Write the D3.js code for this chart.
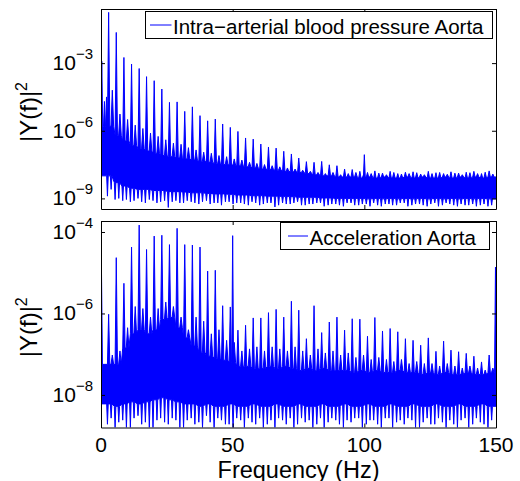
<!DOCTYPE html>
<html>
<head>
<meta charset="utf-8">
<script src="https://cdn.jsdelivr.net/npm/d3@7"></script>
<style>
  body { margin: 0; background: #fff; }
  svg { display: block; font-family: "Liberation Sans", Arial, sans-serif; }
</style>
</head>
<body>
<div id="chart"></div>
<script>
// =============================================================================
// DATA (values are log10 |Y(f)|^2)
// =============================================================================

// heart-rate harmonics and the smaller peaks sitting between them (Hz)
const harmHz = [2.9, 5.8, 8.7, 11.6, 14.5, 17.3, 20.2, 23.1, 26.0, 28.9,
  31.8, 34.7, 37.6, 40.5, 43.4, 46.2, 49.1, 52.0, 54.9, 57.8,
  60.7, 63.6, 66.5, 69.4, 72.3, 75.1, 78.0, 80.9, 83.8, 86.7,
  89.6, 92.5, 95.4, 98.3, 101.2, 104.0, 106.9, 109.8, 112.7, 115.6,
  118.5, 121.4, 124.3, 127.2, 130.1, 132.9, 135.8, 138.7, 141.6, 144.5, 147.4];
const halfHz = [4.3, 7.2, 10.1, 13.0, 15.9, 18.8, 21.7, 24.6, 27.5, 30.4,
  33.2, 36.1, 39.0, 41.9, 44.8, 47.7, 50.6, 53.5, 56.4, 59.2,
  62.1, 65.0, 67.9, 70.8, 73.7, 76.6, 79.5, 82.4, 85.2, 88.1,
  91.0, 93.9, 96.8, 99.7, 102.6, 105.5, 108.4, 111.2, 114.1, 117.0,
  119.9, 122.8, 125.7, 128.6, 131.5, 134.4, 137.2, 140.1, 143.0, 145.9, 148.8];

// Intra-arterial blood pressure Aorta
const topPeak = [-0.75, -1.64, -2.75, -3.04, -3.24, -3.60, -3.78, -4.15, -4.74, -4.72,
  -5.14, -4.94, -5.33, -5.56, -5.48, -5.70, -5.85, -6.03, -6.32, -6.37,
  -6.59, -6.72, -6.77, -6.91, -7.03, -7.21, -7.37, -7.40, -7.36, -7.51,
  -7.55, -7.70, -7.72, -7.80, -7.85, -7.78, -7.88, -7.80, -7.90, -7.84,
  -7.82, -7.92, -7.80, -7.86, -7.90, -7.82, -7.88, -7.84, -7.80, -7.90, -7.78];
const topHalf = [-4.20, -5.26, -5.50, -5.75, -5.90, -6.10, -6.25, -6.40, -6.55, -6.60,
  -6.75, -6.85, -6.95, -7.00, -7.10, -7.15, -7.25, -7.30, -7.40, -7.45,
  -7.50, -7.55, -7.60, -7.65, -7.70, -7.75, -7.80, -7.85, -7.90, -7.85,
  -7.95, -7.90, -7.85, -7.95, -7.90, -7.88, -7.95, -7.85, -7.92, -7.90,
  -7.86, -7.95, -7.90, -7.85, -7.93, -7.88, -7.95, -7.86, -7.90, -7.84, -7.92];
const topCeil = [-5.80, -6.20, -6.45, -6.65, -6.80, -6.90, -7.00, -7.10, -7.15, -7.20,
  -7.25, -7.30, -7.35, -7.40, -7.45, -7.50, -7.52, -7.55, -7.60, -7.65,
  -7.70, -7.72, -7.75, -7.80, -7.82, -7.85, -7.90, -7.95, -8.00, -8.00,
  -8.05, -8.05, -8.05, -8.10, -8.05, -8.10, -8.05, -8.10, -8.10, -8.05,
  -8.10, -8.05, -8.10, -8.10, -8.05, -8.10, -8.05, -8.10, -8.05, -8.10, -8.05];
const topFloor = [-8.00, -8.30, -8.45, -8.55, -8.60, -8.60, -8.65, -8.65, -8.70, -8.70,
  -8.72, -8.75, -8.75, -8.78, -8.80, -8.80, -8.82, -8.85, -8.85, -8.88,
  -8.88, -8.90, -8.90, -8.92, -8.92, -8.95, -8.95, -8.95, -8.98, -8.98,
  -9.00, -9.00, -9.00, -9.00, -9.02, -9.00, -9.02, -9.00, -9.02, -9.00,
  -9.02, -9.00, -9.02, -9.00, -9.02, -9.00, -9.02, -9.00, -9.02, -9.00, -9.02];
const topDipA = [-8.90, -9.05, -9.10, -9.15, -9.00, -9.20, -9.10, -9.15, -9.40, -9.10,
  -9.20, -9.15, -9.25, -9.10, -9.20, -9.30, -9.15, -9.20, -9.25, -9.15,
  -9.30, -9.20, -9.38, -9.20, -9.25, -9.15, -9.30, -9.25, -9.20, -9.30,
  -9.25, -9.35, -9.20, -9.30, -9.25, -9.20, -9.35, -9.25, -9.30, -9.20,
  -9.30, -9.25, -9.35, -9.20, -9.30, -9.25, -9.35, -9.30, -9.25, -9.30, -9.35];
const topDipB = [-8.60, -9.00, -9.05, -9.10, -9.15, -9.05, -9.20, -9.10, -9.15, -9.20,
  -9.10, -9.20, -9.15, -9.25, -9.20, -9.15, -9.25, -9.20, -9.30, -9.20,
  -9.25, -9.20, -9.30, -9.25, -9.20, -9.30, -9.25, -9.20, -9.35, -9.25,
  -9.30, -9.20, -9.30, -9.25, -9.35, -9.30, -9.25, -9.30, -9.20, -9.35,
  -9.25, -9.30, -9.25, -9.35, -9.20, -9.30, -9.25, -9.30, -9.35, -9.25, -9.30];
const topExtraHz = [0.3, 1.3, 2.1, 100.0];
const topExtra = [-2.92, -4.70, -4.50, -7.06];

// Acceleration Aorta
const botPeak = [-6.02, -4.63, -5.26, -4.37, -3.83, -4.43, -4.10, -4.08, -4.31, -3.91,
  -4.31, -4.32, -4.37, -4.96, -4.94, -5.81, -5.84, -6.41, -6.29, -6.11,
  -6.11, -5.98, -5.90, -6.09, -5.70, -5.92, -6.62, -5.81, -6.47, -6.21,
  -6.09, -6.41, -6.13, -6.14, -6.56, -6.10, -6.43, -6.37, -6.45, -6.62,
  -6.66, -6.78, -6.60, -6.93, -6.68, -6.90, -6.94, -6.98, -7.05, -7.19, -7.02];
const botHalf = [-7.02, -6.92, -6.35, -5.83, -5.88, -6.09, -5.88, -5.72, -5.83, -6.09,
  -6.40, -6.09, -6.19, -6.50, -6.40, -6.66, -6.71, -6.92, -6.87, -6.82,
  -6.92, -6.82, -6.87, -6.92, -6.82, -6.92, -7.02, -6.87, -6.97, -6.92,
  -7.02, -6.97, -7.08, -7.02, -7.13, -7.08, -7.13, -7.18, -7.13, -7.23,
  -7.18, -7.23, -7.23, -7.29, -7.23, -7.29, -7.34, -7.29, -7.34, -7.39, -7.34];
const botCeil = [-7.25, -7.25, -6.85, -6.50, -6.40, -6.50, -6.40, -6.15, -6.10, -6.35,
  -6.60, -6.80, -6.95, -7.05, -7.10, -7.15, -7.20, -7.30, -7.30, -7.35,
  -7.35, -7.30, -7.35, -7.30, -7.35, -7.40, -7.35, -7.40, -7.35, -7.40,
  -7.40, -7.40, -7.45, -7.40, -7.45, -7.40, -7.45, -7.45, -7.40, -7.45,
  -7.45, -7.50, -7.45, -7.50, -7.45, -7.50, -7.50, -7.45, -7.50, -7.50, -7.45];
const botFloor = [-8.22, -8.28, -8.22, -8.17, -8.22, -8.17, -8.12, -8.07, -8.12, -8.17,
  -8.22, -8.22, -8.28, -8.22, -8.28, -8.28, -8.22, -8.28, -8.28, -8.22,
  -8.28, -8.28, -8.22, -8.28, -8.28, -8.22, -8.28, -8.28, -8.22, -8.28,
  -8.28, -8.22, -8.28, -8.28, -8.22, -8.28, -8.28, -8.22, -8.28, -8.28,
  -8.22, -8.28, -8.28, -8.22, -8.28, -8.28, -8.22, -8.28, -8.28, -8.22, -8.28];
const botDipA = [-8.72, -8.80, -8.62, -8.80, -8.51, -8.67, -8.80, -8.57, -8.72, -8.62,
  -8.80, -8.57, -8.67, -8.51, -8.80, -8.62, -8.72, -8.57, -8.80, -8.67,
  -8.57, -8.72, -8.80, -8.62, -8.57, -8.72, -8.67, -8.80, -8.57, -8.67,
  -8.62, -8.80, -8.67, -8.57, -8.72, -8.62, -8.80, -8.57, -8.67, -8.72,
  -8.62, -8.80, -8.57, -8.72, -8.67, -8.62, -8.80, -8.57, -8.72, -8.67, -8.80];
const botDipB = [-8.57, -8.67, -8.80, -8.57, -8.72, -8.80, -8.62, -8.67, -8.57, -8.80,
  -8.62, -8.72, -8.80, -8.67, -8.57, -8.72, -8.80, -8.62, -8.57, -8.72,
  -8.80, -8.62, -8.57, -8.72, -8.80, -8.57, -8.62, -8.72, -8.80, -8.57,
  -8.72, -8.62, -8.57, -8.80, -8.62, -8.72, -8.57, -8.80, -8.62, -8.57,
  -8.80, -8.67, -8.72, -8.57, -8.80, -8.72, -8.62, -8.80, -8.57, -8.72, -8.62];
const botExtraHz = [0.2, 50.0, 149.8];
const botExtra = [-5.04, -4.09, -4.86];

// axes
const xTicks = [0, 50, 100, 150];
const topTicks = [-3, -6, -9];
const botTicks = [-4, -6, -8];
const topDomain = [-9.47, -0.60];
const botDomain = [-8.80, -3.73];

// =============================================================================
// LAYOUT
// =============================================================================
const W = 520, H = 481;
const BLUE = '#0000ff';

const svg = d3.select('#chart').append('svg')
  .attr('width', W).attr('height', H);

const x = d3.scaleLinear().domain([0, 150]).range([101, 496]);

function spectrumPath(y, d) {
  // upper outline: narrow spikes standing on the noise band
  const spikes = [];
  d.peak.forEach((v, i) => spikes.push({ f: harmHz[i], v, base: d.ceil[i], w: 0.45 }));
  d.half.forEach((v, i) => spikes.push({ f: halfHz[i], v, base: d.ceil[i], w: 0.5 }));
  d.extraHz.forEach((f, i) => {
    const k = Math.min(harmHz.length - 1, d3.bisectLeft(harmHz, f));
    spikes.push({ f, v: d.extra[i], base: d.ceil[k], w: 0.35 });
  });
  spikes.sort((a, b) => a.f - b.f);

  const upper = [[-1, d.ceil[0]]];
  spikes.forEach(s => upper.push([s.f - s.w, s.base], [s.f, s.v], [s.f + s.w, s.base]));
  upper.push([151, d.ceil[d.ceil.length - 1]]);

  // lower outline: band floor with downward dips
  const lower = [[-1, d.floor[0]]];
  harmHz.forEach((f, i) => {
    lower.push([f - 0.75, d.floor[i]], [f - 0.45, d.dipA[i]], [f - 0.15, d.floor[i]]);
    const h = halfHz[i];
    lower.push([h - 0.75, d.floor[i]], [h - 0.45, d.dipB[i]], [h - 0.15, d.floor[i]]);
  });
  lower.push([151, d.floor[d.floor.length - 1]]);

  const pts = upper.concat(lower.reverse());
  return d3.line().x(p => x(p[0])).y(p => y(Math.pow(10, p[1])))(pts) + 'Z';
}

function drawPanel(p) {
  const y = d3.scaleLog()
    .domain([Math.pow(10, p.domain[0]), Math.pow(10, p.domain[1])])
    .range([p.bottom, p.top]);

  const g = svg.append('g');

  g.append('clipPath').attr('id', p.id)
    .append('rect')
    .attr('x', x(0)).attr('y', p.top)
    .attr('width', x(150) - x(0)).attr('height', p.bottom - p.top);

  g.append('path')
    .attr('clip-path', `url(#${p.id})`)
    .attr('d', spectrumPath(y, p))
    .attr('fill', BLUE)
    .attr('stroke', BLUE)
    .attr('stroke-width', 1);

  // box with inward ticks on all four sides
  const yVals = p.ticks.map(t => Math.pow(10, t));
  const axes = [
    [d3.axisBottom(x), `translate(0,${p.bottom})`, xTicks],
    [d3.axisTop(x), `translate(0,${p.top})`, xTicks],
    [d3.axisLeft(y), `translate(${x(0)},0)`, yVals],
    [d3.axisRight(y), `translate(${x(150)},0)`, yVals]
  ];
  axes.forEach(([ax, tr, vals]) => {
    g.append('g')
      .attr('transform', tr)
      .call(ax.tickValues(vals).tickSizeInner(-4).tickSizeOuter(0).tickFormat(''))
      .call(s => s.selectAll('path, line').attr('stroke', '#000').attr('stroke-width', 1));
  });

  // y tick labels 10^n
  p.ticks.forEach(t => {
    const txt = g.append('text')
      .attr('x', 93).attr('y', y(Math.pow(10, t)) + 7)
      .attr('text-anchor', 'end')
      .attr('font-size', 21)
      .text('10');
    txt.append('tspan')
      .attr('dy', -11).attr('font-size', 15)
      .text('\u2212' + Math.abs(t));
  });

  // y label |Y(f)|^2
  const yl = g.append('text')
    .attr('transform', `translate(37,${(p.top + p.bottom) / 2 + 3}) rotate(-90)`)
    .attr('text-anchor', 'middle')
    .attr('font-size', 24)
    .text('|Y(f)|');
  yl.append('tspan').attr('dy', -10).attr('font-size', 16).text('2');

  // legend
  const lb = p.legendBox;
  g.append('rect')
    .attr('x', lb[0]).attr('y', lb[1])
    .attr('width', lb[2] - lb[0]).attr('height', lb[3] - lb[1])
    .attr('fill', '#fff').attr('stroke', '#000').attr('stroke-width', 1);
  const ly = (lb[1] + lb[3]) / 2;
  g.append('line')
    .attr('x1', p.legendLine[0]).attr('x2', p.legendLine[1])
    .attr('y1', ly).attr('y2', ly)
    .attr('stroke', BLUE).attr('stroke-width', 1);
  g.append('text')
    .attr('x', p.legendLine[1] + 1.5).attr('y', lb[1] + 22)
    .attr('font-size', 20.5)
    .text(p.legend);

  if (p.showX) {
    xTicks.forEach(t => {
      g.append('text')
        .attr('x', x(t)).attr('y', 451.5)
        .attr('text-anchor', 'middle')
        .attr('font-size', 21)
        .text(t);
    });
    g.append('text')
      .attr('x', (x(0) + x(150)) / 2).attr('y', 477.5)
      .attr('text-anchor', 'middle')
      .attr('font-size', 23.5)
      .text('Frequency (Hz)');
  }
}

drawPanel({
  id: 'clip-top', top: 9, bottom: 209, domain: topDomain, ticks: topTicks,
  peak: topPeak, half: topHalf, ceil: topCeil, floor: topFloor, dipA: topDipA, dipB: topDipB,
  extraHz: topExtraHz, extra: topExtra,
  legend: 'Intra\u2212arterial blood pressure Aorta',
  legendBox: [145.5, 11.5, 492.5, 38.5], legendLine: [150, 171.5],
  showX: false
});

drawPanel({
  id: 'clip-bot', top: 221, bottom: 427.5, domain: botDomain, ticks: botTicks,
  peak: botPeak, half: botHalf, ceil: botCeil, floor: botFloor, dipA: botDipA, dipB: botDipB,
  extraHz: botExtraHz, extra: botExtra,
  legend: 'Acceleration Aorta',
  legendBox: [280.5, 222.5, 489.5, 249.5], legendLine: [288, 308],
  showX: true
});
</script>
</body>
</html>
